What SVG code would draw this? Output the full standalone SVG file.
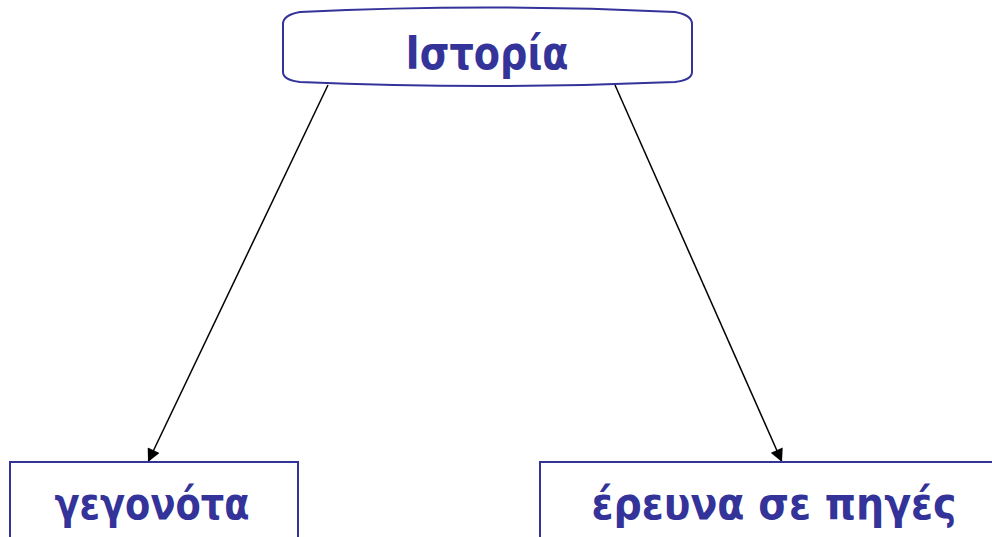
<svg xmlns="http://www.w3.org/2000/svg" width="992" height="537" viewBox="0 0 992 537">
<defs>
<style>
.box{fill:#fff;stroke:#333399;stroke-width:2}
.lbl{font-family:"DejaVu Sans","Liberation Sans",sans-serif;font-weight:bold;fill:#333399;text-anchor:middle}
.edge{stroke:#000;stroke-width:1.5;fill:none;marker-end:url(#arr)}
</style>
<marker id="arr" viewBox="0 0 10 10" refX="10" refY="5" markerWidth="15" markerHeight="13" markerUnits="userSpaceOnUse" orient="auto">
<path d="M0,0 L10,5 L0,10 Z" fill="#000"/>
</marker>
</defs>
<rect width="992" height="537" fill="#fff"/>
<g id="connectors">
<line class="edge" x1="328" y1="85" x2="148" y2="462"/>
<line class="edge" x1="615" y1="85" x2="782" y2="462"/>
</g>
<g id="node-istoria">
<path class="box" d="M283,24 Q283,15 300,12 Q487,3 675,12 Q692,15 692,24 L692,72 Q692,80 675,82 Q487,90 300,82 Q283,80 283,72 Z"/>
<text class="lbl" x="487" y="69" font-size="47" textLength="163" lengthAdjust="spacingAndGlyphs">Ιστορία</text>
</g>
<g id="node-gegonota">
<rect class="box" x="10" y="462" width="288" height="90"/>
<text class="lbl" x="152" y="519" font-size="44" textLength="195" lengthAdjust="spacingAndGlyphs">γεγονότα</text>
</g>
<g id="node-erevna">
<rect class="box" x="540" y="462" width="470" height="90"/>
<text class="lbl" x="774" y="519" font-size="44" textLength="365" lengthAdjust="spacingAndGlyphs">έρευνα σε πηγές</text>
</g>
</svg>
